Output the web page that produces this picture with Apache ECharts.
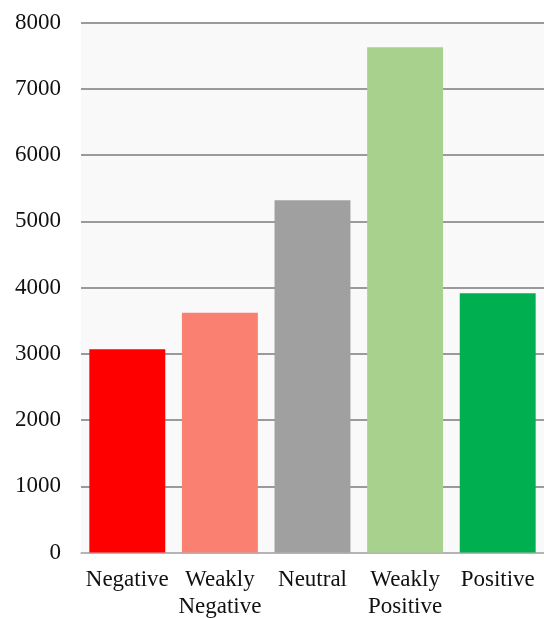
<!DOCTYPE html>
<html>
<head>
<meta charset="utf-8">
<script src="https://cdn.jsdelivr.net/npm/echarts@6/dist/echarts.min.js"></script>
<style>html,body{margin:0;padding:0;background:#fff}#c{width:544px;height:618px}</style>
</head>
<body>
<div id="c"></div>
<script>
var categories = ['Negative', 'Weakly Negative', 'Neutral', 'Weakly Positive', 'Positive'];
var values = [3070, 3620, 5320, 7630, 3915];
var barColors = ['#ff0000', '#fa8072', '#a0a0a0', '#a9d18e', '#00b050'];
var yTicks = [0, 1000, 2000, 3000, 4000, 5000, 6000, 7000, 8000];

var chart = echarts.init(document.getElementById('c'), null, {renderer: 'canvas'});
chart.setOption({
  animation: false,
  backgroundColor: '#ffffff',
  grid: {left: 81, right: 0, top: 22.7, bottom: 65.4, show: true, backgroundColor: '#f9f9f9', borderWidth: 0,
    containLabel: false, outerBoundsMode: 'none'},
  xAxis: {
    type: 'category',
    data: categories,
    axisLine: {show: true, lineStyle: {color: '#bdbdbd', width: 1.5}},
    axisTick: {show: false},
    axisLabel: {
      interval: 0,
      margin: 14,
      color: '#111',
      fontFamily: 'Liberation Serif',
      fontSize: 23,
      lineHeight: 27,
      formatter: function (v) { return v.replace(' ', '\n'); }
    }
  },
  yAxis: {
    type: 'value',
    min: yTicks[0],
    max: yTicks[yTicks.length - 1],
    interval: 1000,
    axisLine: {show: false},
    axisTick: {show: false},
    axisLabel: {margin: 20, color: '#111', fontFamily: 'Liberation Serif', fontSize: 23,
      formatter: function (v) { return String(v); }},
    splitLine: {lineStyle: {color: '#7a7a7a', width: 1.5}}
  },
  series: [{
    type: 'bar',
    barCategoryGap: '18%',
    data: values.map(function (v, i) { return {value: v, itemStyle: {color: barColors[i]}}; })
  }]
});
</script>
</body>
</html>
